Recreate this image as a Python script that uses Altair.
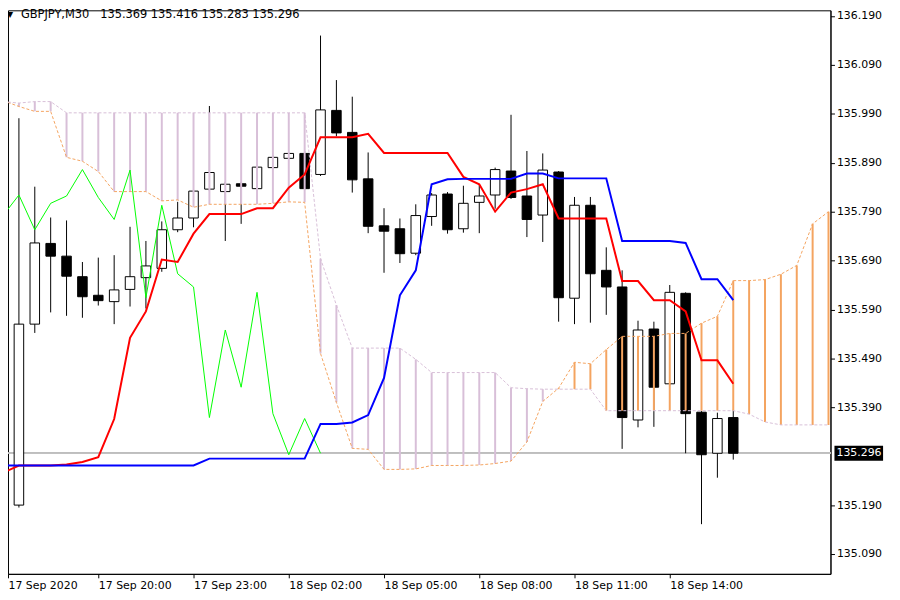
import altair as alt
import pandas as pd

# ---------------- data ----------------
symbol = "GBPJPY,M30"
header_values = ["135.369", "135.416", "135.283", "135.296"]

opens = [135.151, 135.190, 135.560, 135.725, 135.699, 135.657, 135.619, 135.606, 135.631, 135.655,
         135.674, 135.753, 135.777, 135.836, 135.831, 135.847, 135.837, 135.880, 135.899, 135.909,
         135.866, 135.997, 135.952, 135.857, 135.761, 135.755, 135.705, 135.780, 135.826, 135.755,
         135.809, 135.824, 135.873, 135.822, 135.783, 135.871, 135.613, 135.803, 135.670, 135.636,
         135.364, 135.550, 135.438, 135.623, 135.380, 135.296, 135.369]
highs = [135.251, 135.981, 135.841, 135.778, 135.772, 135.687, 135.696, 135.701, 135.759, 135.730,
         135.770, 135.810, 135.836, 136.006, 135.851, 135.851, 135.885, 135.905, 135.911, 135.914,
         136.150, 136.059, 136.025, 135.911, 135.797, 135.776, 135.805, 135.828, 135.830, 135.843,
         135.846, 135.880, 135.988, 135.914, 135.909, 135.873, 135.820, 135.820, 135.717, 135.670,
         135.567, 135.565, 135.640, 135.625, 135.382, 135.379, 135.385]
lows = [135.086, 135.185, 135.542, 135.584, 135.577, 135.573, 135.598, 135.560, 135.596, 135.592,
        135.667, 135.748, 135.758, 135.832, 135.730, 135.765, 135.834, 135.879, 135.897, 135.834,
        135.863, 135.944, 135.829, 135.746, 135.665, 135.685, 135.701, 135.761, 135.745, 135.747,
        135.746, 135.796, 135.816, 135.738, 135.728, 135.565, 135.560, 135.563, 135.579, 135.305,
        135.349, 135.350, 135.435, 135.296, 135.151, 135.246, 135.283]
closes = [135.190, 135.560, 135.726, 135.699, 135.658, 135.616, 135.608, 135.630, 135.657, 135.679,
          135.753, 135.777, 135.832, 135.870, 135.846, 135.842, 135.881, 135.901, 135.909, 135.837,
          135.998, 135.951, 135.855, 135.760, 135.750, 135.704, 135.782, 135.824, 135.753, 135.807,
          135.822, 135.876, 135.819, 135.774, 135.875, 135.614, 135.803, 135.663, 135.636, 135.369,
          135.548, 135.431, 135.625, 135.377, 135.293, 135.367, 135.296]

tenkan = [135.256, 135.271, 135.271, 135.271, 135.273, 135.278, 135.288, 135.366, 135.532, 135.586,
          135.692, 135.687, 135.745, 135.785, 135.785, 135.785, 135.797, 135.797, 135.839, 135.866,
          135.942, 135.942, 135.942, 135.949, 135.910, 135.910, 135.910, 135.910, 135.910, 135.861,
          135.846, 135.790, 135.829, 135.836, 135.846, 135.776, 135.776, 135.776, 135.776, 135.648,
          135.648, 135.609, 135.609, 135.586, 135.486, 135.486, 135.438]
kijun = [135.271, 135.271, 135.271, 135.271, 135.271, 135.271, 135.271, 135.271, 135.271, 135.271,
         135.271, 135.271, 135.271, 135.285, 135.285, 135.285, 135.285, 135.285, 135.285, 135.285,
         135.356, 135.356, 135.359, 135.374, 135.450, 135.619, 135.670, 135.846, 135.856, 135.857,
         135.857, 135.857, 135.857, 135.868, 135.868, 135.858, 135.858, 135.858, 135.858, 135.730,
         135.730, 135.730, 135.730, 135.726, 135.652, 135.652, 135.609]
chikou = [135.782, 135.824, 135.753, 135.807, 135.822, 135.876, 135.819, 135.774, 135.875, 135.614,
          135.803, 135.663, 135.636, 135.369, 135.548, 135.431, 135.625, 135.377, 135.293, 135.367,
          135.296]
span_a = [136.017, 136.005, 135.995, 135.995, 135.901, 135.893, 135.872, 135.831, 135.831, 135.831,
          135.812, 135.814, 135.799, 135.805, 135.805, 135.805, 135.805, 135.807, 135.810, 135.809,
          135.500, 135.400, 135.306, 135.304, 135.263, 135.263, 135.264, 135.271, 135.271, 135.271,
          135.272, 135.275, 135.280, 135.319, 135.402, 135.429, 135.482, 135.479, 135.508, 135.535,
          135.535, 135.535, 135.541, 135.541, 135.562, 135.576, 135.649, 135.649, 135.651, 135.662,
          135.680, 135.765, 135.790]
span_b = [136.015, 136.012, 136.015, 136.015, 135.992, 135.992, 135.992, 135.992, 135.992, 135.992,
          135.992, 135.992, 135.992, 135.992, 135.992, 135.992, 135.992, 135.992, 135.992, 135.992,
          135.694, 135.599, 135.511, 135.511, 135.511, 135.511, 135.488, 135.461, 135.461, 135.461,
          135.461, 135.461, 135.430, 135.428, 135.427, 135.427, 135.427, 135.427, 135.383, 135.383,
          135.383, 135.383, 135.383, 135.383, 135.383, 135.383, 135.383, 135.376, 135.360, 135.354,
          135.354, 135.354, 135.354]

time_labels = ["17 Sep 2020", "17 Sep 20:00", "17 Sep 23:00", "18 Sep 02:00",
               "18 Sep 05:00", "18 Sep 08:00", "18 Sep 11:00", "18 Sep 14:00"]
label_bars = [0, 6, 12, 18, 24, 30, 36, 42]
price_ticks = [135.09, 135.19, 135.39, 135.49, 135.59, 135.69, 135.79, 135.89, 135.99, 136.09, 136.19]

# ---------------- tables ----------------
X_MIN, X_MAX = 0.3125, 52.125
Y_MIN, Y_MAX = 135.0494, 136.2016
FONT = "DejaVu Sans"
NBSP = "\u00a0"

candles = pd.DataFrame({"i": range(len(closes)), "open": opens, "high": highs,
                        "low": lows, "close": closes})
candles["lo"] = candles["i"] - 0.3
candles["hi"] = candles["i"] + 0.3
candles["kind"] = ["bull" if c >= o else "bear" for o, c in zip(opens, closes)]

ind = pd.DataFrame({"i": range(len(tenkan)), "tenkan": tenkan, "kijun": kijun})
chik = pd.DataFrame({"i": range(len(chikou)), "chikou": chikou})
cloud = pd.DataFrame({"i": range(len(span_a)), "a": span_a, "b": span_b})
cloud["side"] = ["a" if a > b else "b" for a, b in zip(span_a, span_b)]

xs = alt.Scale(domain=[X_MIN, X_MAX], nice=False, zero=False)
ys = alt.Scale(domain=[Y_MIN, Y_MAX], nice=False, zero=False)

label_js = "[" + ",".join("'" + t + "'" for t in time_labels) + "]"
x_axis = alt.Axis(values=[max(b, X_MIN) for b in label_bars],
                  labelExpr=label_js + "[round(datum.value / 6)]",
                  labelAlign="left", labelBaseline="top", labelPadding=2,
                  labelFlush=False, labelOverlap=False, tickSize=4, grid=False, title=None)
y_axis = alt.Axis(orient="right", values=price_ticks, format=".3f", tickSize=4,
                  labelPadding=2, grid=False, title=None, labelOverlap=False)


def X(field):
    return alt.X(field, type="quantitative", scale=xs, axis=x_axis, title=None)


def Y(field):
    return alt.Y(field, type="quantitative", scale=ys, axis=y_axis, title=None)


last_close = closes[-1]

price_line = alt.Chart(candles).mark_rule(color="#C0C0C0", strokeWidth=1).encode(
    y=alt.YDatum(last_close, scale=ys, axis=y_axis, title=None))

wicks = alt.Chart(candles).mark_rule(color="black", strokeWidth=1, clip=True).encode(
    x=X("i"), y=Y("low"), y2="high")

bodies = alt.Chart(candles).mark_rect(stroke="black", strokeWidth=1, clip=True).encode(
    x=X("lo"), x2="hi", y=Y("open"), y2="close",
    fill=alt.Fill("kind:N", scale=alt.Scale(domain=["bull", "bear"], range=["white", "black"]),
                  legend=None))

hatch = alt.Chart(cloud).mark_rule(strokeWidth=2, clip=True).encode(
    x=X("i"), y=Y("a"), y2="b",
    color=alt.Color("side:N", scale=alt.Scale(domain=["a", "b"], range=["#F4A460", "#D8BFD8"]),
                    legend=None))

line_a = alt.Chart(cloud).mark_line(color="#F4A460", strokeWidth=1, strokeDash=[3, 2], clip=True).encode(
    x=X("i"), y=Y("a"))
line_b = alt.Chart(cloud).mark_line(color="#D8BFD8", strokeWidth=1, strokeDash=[3, 2], clip=True).encode(
    x=X("i"), y=Y("b"))

chikou_line = alt.Chart(chik).mark_line(color="#00FF00", strokeWidth=1, clip=True).encode(
    x=X("i"), y=Y("chikou"))
tenkan_line = alt.Chart(ind).mark_line(color="#FF0000", strokeWidth=2, clip=True).encode(
    x=X("i"), y=Y("tenkan"))
kijun_line = alt.Chart(ind).mark_line(color="#0000FF", strokeWidth=2, clip=True).encode(
    x=X("i"), y=Y("kijun"))

title_df = pd.DataFrame({"t": [symbol + NBSP * 3 + NBSP.join(header_values)]})
title_text = alt.Chart(title_df).mark_text(align="left", baseline="middle", font=FONT,
                                           fontSize=11.5, color="black").encode(
    x=alt.value(13), y=alt.value(5), text="t:N")
tri_df = pd.DataFrame({"t": ["\u25BC"]})
tri_text = alt.Chart(tri_df).mark_text(align="center", baseline="middle", font=FONT,
                                       fontSize=8, color="black").encode(
    x=alt.value(2), y=alt.value(5), text="t:N")

label_box = alt.Chart(tri_df).mark_point(
    shape="M0,-0.155 L1,-0.155 L1,0.155 L0,0.155 Z", size=9604, filled=True,
    color="black", opacity=1, strokeWidth=0).encode(
    x=alt.value(833), y=alt.YDatum(last_close, scale=ys, axis=y_axis, title=None))
label_txt = alt.Chart(tri_df).mark_text(align="left", baseline="middle", font=FONT,
                                        fontSize=11, color="white").encode(
    x=alt.value(835), y=alt.YDatum(last_close, scale=ys, axis=y_axis, title=None),
    text=alt.value(f"{last_close:.3f}"))

chart = alt.layer(
    price_line, wicks, bodies, hatch, line_a, line_b, chikou_line, tenkan_line, kijun_line,
    title_text, tri_text, label_box, label_txt
).properties(
    width=829, height=568,
    autosize=alt.AutoSizeParams(type="none"),
    padding={"left": 0, "top": 0, "right": 62, "bottom": 24},
    background="white",
).configure_view(
    stroke="black", strokeWidth=1
).configure_axis(
    labelFont=FONT, labelFontSize=11, labelColor="black",
    domainColor="black", domainWidth=1, tickColor="black", tickWidth=1
)

chart.save("out.html", embed_options={"renderer": "svg", "actions": False})
